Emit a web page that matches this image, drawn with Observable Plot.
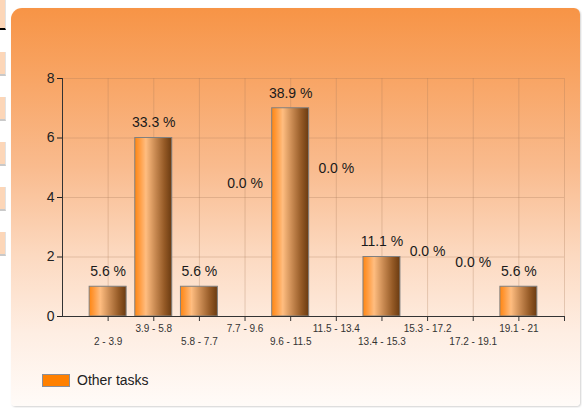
<!DOCTYPE html>
<html>
<head>
<meta charset="utf-8">
<script src="https://cdn.jsdelivr.net/npm/d3@7"></script>
<script src="https://cdn.jsdelivr.net/npm/@observablehq/plot@0.6"></script>
<style>
  html, body { margin: 0; padding: 0; background: #fff; width: 582px; height: 408px; overflow: hidden; font-family: "Liberation Sans", Arial, sans-serif; }
  .side { position: absolute; left: 0; width: 5px; background: #fcd6b8; border-bottom: 2px solid #c9c9c9; border-right: 1px solid #e2e2e2; }
  #panel { position: absolute; left: 11px; top: 8px; width: 569px; height: 398px; border-radius: 11px 6px 4px 4px;
    background: linear-gradient(to bottom, #f79446 0%, #f8a565 18%, #f9bb8e 40%, #fcd9c0 62%, #feeee3 82%, #fffbf8 100%);
    box-shadow: 1px 1px 2px rgba(0,0,0,0.18); }
  #chart { position: absolute; left: 0; top: 0; }
  #legend { position: absolute; left: 42px; top: 372px; display: flex; align-items: center; font-size: 14px; color: #222; }
  #legend .sw { width: 26px; height: 11px; background: #ff8000; border: 1px solid #8a8f9a; margin-right: 7px; }
</style>
</head>
<body>
<div class="side" style="top:0;height:28px;border-bottom:2px solid #000;"></div>
<div class="side" style="top:52px;height:22px;"></div>
<div class="side" style="top:97px;height:22px;"></div>
<div class="side" style="top:142px;height:22px;"></div>
<div class="side" style="top:187px;height:22px;"></div>
<div class="side" style="top:232px;height:22px;"></div>
<div id="panel"></div>
<div id="chart"></div>
<div id="legend"><div class="sw"></div><span>Other tasks</span></div>
<script>
const categories = ["2 - 3.9", "3.9 - 5.8", "5.8 - 7.7", "7.7 - 9.6", "9.6 - 11.5", "11.5 - 13.4", "13.4 - 15.3", "15.3 - 17.2", "17.2 - 19.1", "19.1 - 21"];
const counts = [1, 6, 1, 0, 7, 0, 2, 0, 0, 1];
const percentLabels = ["5.6 %", "33.3 %", "5.6 %", "0.0 %", "38.9 %", "0.0 %", "11.1 %", "0.0 %", "0.0 %", "5.6 %"];
// where each percentage label sits (data units); zero-bars have labels floated by the original chart
const labelAt = [1, 6, 1, 3.97, 7, 4.47, 2, 1.68, 1.31, 1];
const yTicks = [0, 2, 4, 6, 8];
const seriesName = "Other tasks";

const data = categories.map((c, i) => ({pos: i + 1, cat: c, value: counts[i], label: percentLabels[i], at: labelAt[i]}));
const halfBar = 0.405;
const tickPositions = d3.range(1, categories.length + 2);

const chart = Plot.plot({
  width: 582,
  height: 360,
  marginLeft: 62,
  marginRight: 18,
  marginTop: 78,
  marginBottom: 44,
  style: {background: "transparent", fontFamily: "'Liberation Sans', Arial, sans-serif", overflow: "visible"},
  x: {domain: [0, categories.length + 1], axis: null},
  y: {domain: [0, 8], axis: null},
  marks: [
    Plot.gridY(yTicks.filter(t => t > 0), {stroke: "#a87a5a", strokeOpacity: 0.3}),
    Plot.gridX(tickPositions, {stroke: "#a87a5a", strokeOpacity: 0.3}),
    Plot.rectY(data, {x1: d => d.pos - halfBar, x2: d => d.pos + halfBar, y1: 0, y2: "value", fill: "url(#barGrad)", stroke: "#808080", strokeWidth: 1}),
    Plot.ruleY([0], {stroke: "#333"}),
    Plot.ruleX([0], {stroke: "#333"}),
    Plot.axisY({ticks: yTicks, tickSize: 5, tickPadding: 3, fontSize: 14, color: "#222", label: null}),
    Plot.axisX({ticks: tickPositions.filter(t => t % 2 === 0 && t <= categories.length), tickFormat: t => categories[t - 1], tickSize: 5, tickPadding: 3, fontSize: 10, color: "#333", textStroke: "none", label: null}),
    Plot.axisX({ticks: tickPositions.filter(t => t % 2 === 1 && t <= categories.length), tickFormat: t => categories[t - 1], tickSize: 5, tickPadding: 16, fontSize: 10, color: "#333", label: null}),
    Plot.axisX({ticks: [categories.length + 1], tickFormat: () => "", tickSize: 5, color: "#333", label: null}),
    Plot.text(data, {x: "pos", y: "at", text: "label", dy: -15, fontSize: 14, fill: "#1a1a1a"})
  ]
});

const svg = d3.select(chart);
const defs = svg.insert("defs", ":first-child");
const g = defs.append("linearGradient").attr("id", "barGrad").attr("x1", "0%").attr("x2", "100%").attr("y1", "0%").attr("y2", "0%");
[["0%", "#ff8612"], ["12%", "#ff9a3c"], ["30%", "#ffbd80"], ["55%", "#c98a52"], ["80%", "#955a26"], ["100%", "#6a3a10"]]
  .forEach(([o, c]) => g.append("stop").attr("offset", o).attr("stop-color", c));

document.getElementById("chart").appendChild(chart);
</script>
</body>
</html>
